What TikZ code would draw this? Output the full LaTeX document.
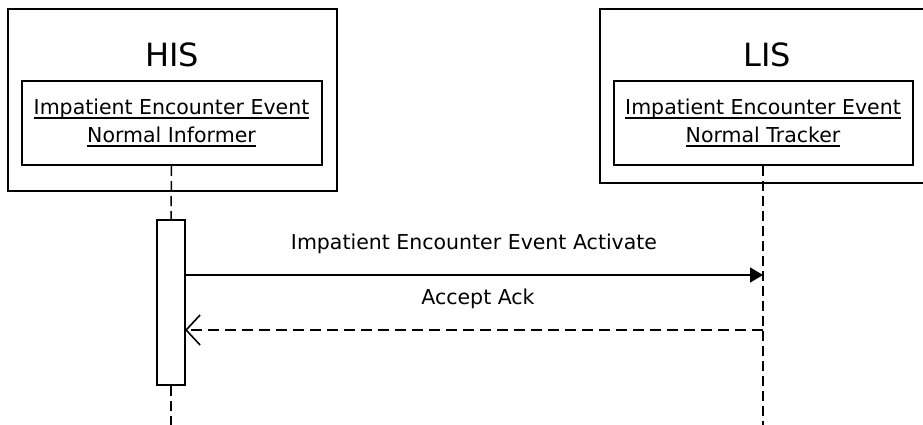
\documentclass[tikz,border=0pt]{standalone}
\usepackage{fontspec}
\setmainfont{DejaVu Sans}
\usetikzlibrary{arrows.meta}
% underline drawn a little below the baseline, through descenders
\newcommand\ulx[1]{\setbox0\hbox{#1}\rlap{\rule[-3.6pt]{\wd0}{1.4pt}}\box0}
\begin{document}
\begin{tikzpicture}[x=1pt,y=-1pt,
  outerbox/.style={draw,line width=2pt,minimum width=#1,inner sep=0pt},
  innerbox/.style={draw,line width=2pt,minimum width=#1,minimum height=84pt,
    inner sep=0pt,align=center,font=\fontsize{20.5}{28}\selectfont},
  title/.style={font=\fontsize{32}{36}\selectfont,inner sep=0pt},
  lifeline/.style={line width=1.5pt,dash pattern=on 10pt off 5pt},
  actbox/.style={draw,fill=white,line width=2pt,minimum width=28pt,minimum height=165pt,inner sep=0pt},
  msg/.style={line width=1.6pt},
  reply/.style={line width=1.6pt,dash pattern=on 11pt off 6pt},
  lbl/.style={font=\fontsize{20.5}{24}\selectfont,inner sep=0pt}]
\useasboundingbox (0,0) rectangle (923,425);
\clip (0,0) rectangle (923,425);

% participant frames
\node[outerbox=329pt,minimum height=182pt] (hisout) at (172.5,100) {};
\node[outerbox=340pt,minimum height=174pt] (lisout) at (770,96) {};
\node[title] (histitle) at (172,55) {HIS};
\node[title] (listitle) at (767,55) {LIS};
\node[innerbox=300pt] (hisin) at (171.5,123)
  {\ulx{Impatient Encounter Event}\\\ulx{Normal Informer}};
\node[innerbox=299pt] (lisin) at (763,123)
  {\ulx{Impatient Encounter Event}\\\ulx{Normal Tracker}};

% activation bar on the HIS lifeline
\node[actbox] (act) at (171,302.5) {};

% lifelines
\coordinate (hisend) at (171,425);
\coordinate (lisend) at (763,425);
\draw[lifeline] (hisin.south) -- (act.north);
\draw[lifeline] (act.south) -- (hisend);
\draw[lifeline] (lisin.south) -- (lisend);

% messages
\coordinate (m1a) at (185,275);
\coordinate (m1b) at (763,275);
\coordinate (m2a) at (763,330);
\coordinate (m2b) at (185,330);
\draw[msg,-{Triangle[length=13pt,width=15pt]}] (m1a) -- (m1b);
\draw[reply,-{Straight Barb[length=14pt,width=30pt,line width=1.6pt]}] (m2a) -- (m2b);
\node[lbl] (l1) at (474,244) {Impatient Encounter Event Activate};
\node[lbl] (l2) at (478,299) {Accept Ack};
\end{tikzpicture}
\end{document}
